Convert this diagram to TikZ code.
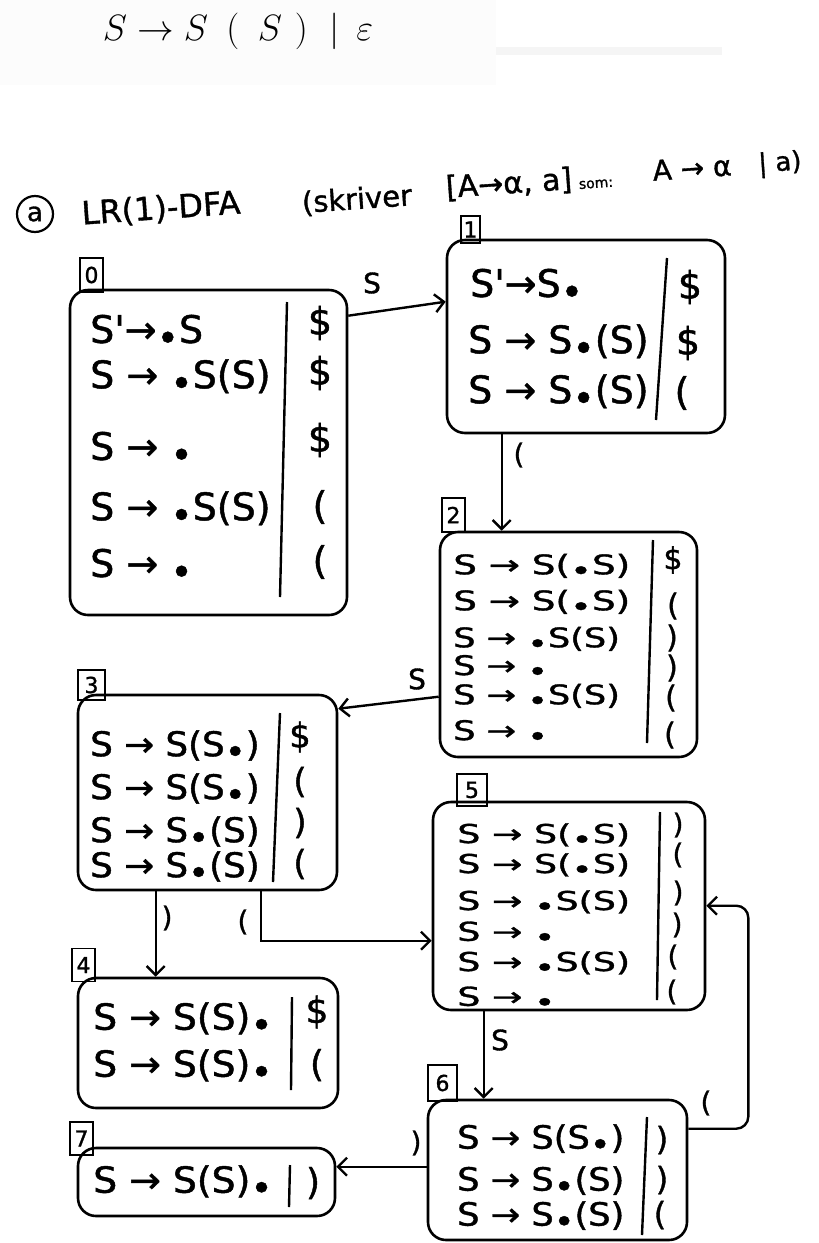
\documentclass[tikz,border=0pt]{standalone}
\usepackage{fontspec}
\newfontfamily\hw[FakeBold=1.2]{DejaVu Sans}
\usetikzlibrary{arrows.meta}
\newcommand\dotp{\raisebox{-0.22em}{•}}
\newcommand\fsz[1]{\hw\fontsize{#1}{#1}\selectfont}
\begin{document}
\begin{tikzpicture}[x=1pt,y=-1pt,
  sbox/.style 2 args={draw, line width=2.6pt, rounded corners=18pt, inner sep=0pt, minimum width=#1pt, minimum height=#2pt},
  tagbox/.style 2 args={draw, line width=1.8pt, inner sep=0pt, font=\fsz{22}, minimum width=#1pt, minimum height=#2pt},
  arr/.style={line width=2.4pt, -{Straight Barb[length=9pt,width=18pt]}},
  lbl/.style={font=\fsz{28}, inner sep=0pt},
  divl/.style={line width=2.4pt},
  row/.style={anchor=west, inner sep=0pt},
  la/.style={inner sep=0pt}]
\useasboundingbox (0,0) rectangle (819,1243);
% header
\fill[black!1] (0,0) rectangle (496,85);
\fill[black!4] (496,47) rectangle (722,55);
\node[inner sep=0pt, scale=2.12] (hdr) at (238,31) {\fontsize{17.28}{20}\selectfont$S\rightarrow S\hspace{0.5em}\mathbf{(}\hspace{0.5em}S\hspace{0.35em}\mathbf{)}\hspace{0.6em}\big|\hspace{0.45em}\varepsilon$};
% title
\node[circle, draw, line width=2.2pt, inner sep=0pt, minimum size=36pt, font=\fsz{26}] (ca) at (35,214) {a};
\node[font=\fsz{32}, inner sep=0pt, rotate=4] (ttl1) at (161,209) {LR(1)-DFA};
\node[font=\fsz{29}, inner sep=0pt, rotate=4] (ttl2) at (357,200) {(skriver};
\node[font=\fsz{30}, inner sep=0pt, rotate=4] (ttl3) at (509,184) {[A→α, a]};
\node[font=\fsz{14}, inner sep=0pt, rotate=4] (ttl4) at (596,184) {som:};
\node[font=\fsz{28}, inner sep=0pt, rotate=4] (ttl5) at (692,168) {A → α};
\node[font=\fsz{26}, inner sep=0pt, rotate=4] (ttl6) at (780,164) {| a)};
% state boxes
\node[sbox={277}{325}, fill=white] (s0) at (208.5,452.5) {};
\node[sbox={278}{193}, fill=white] (s1) at (586,336.5) {};
\node[sbox={257}{225}, fill=white] (s2) at (568.5,644.5) {};
\node[sbox={259}{195}, fill=white] (s3) at (207.5,792.5) {};
\node[sbox={260}{130}, fill=white] (s4) at (208,1043) {};
\node[sbox={272}{208}, fill=white] (s5) at (569,906) {};
\node[sbox={259}{140}, fill=white] (s6) at (557.5,1170) {};
\node[sbox={257}{68}, fill=white] (s7) at (206.5,1182) {};
% tags
\node[tagbox={23}{34}] (g0) at (91.5,275) {0};
\node[tagbox={19}{27}] (g1) at (470.5,229.5) {1};
\node[tagbox={23}{34}] (g2) at (453.5,515) {2};
\node[tagbox={27}{30}] (g3) at (91.5,685) {3};
\node[tagbox={23}{33}] (g4) at (83.5,965) {4};
\node[tagbox={30}{32}] (g5) at (472,790) {5};
\node[tagbox={29}{36}] (g6) at (442.5,1083) {6};
\node[tagbox={23}{33}] (g7) at (81.5,1138.5) {7};
% dividers
\draw[divl] (287,302) -- (280,597);
\draw[divl] (667,258) -- (656,420);
\draw[divl] (653,540) -- (647,743);
\draw[divl] (280,713) -- (273,882);
\draw[divl] (292,997) -- (291,1090);
\draw[divl] (660,812) -- (657,1000);
\draw[divl] (647,1117) -- (642,1235);
\draw[divl] (290,1165) -- (289,1207);
% state 0
\begin{scope}[every node/.append style={font=\fsz{38}}]
\node[row] (s0r1) at (90,333) {S'→\dotp S};
\node[row] (s0r2) at (90,378) {S → \dotp S(S)};
\node[row] (s0r3) at (90,450) {S → \dotp};
\node[row] (s0r4) at (90,510) {S → \dotp S(S)};
\node[row] (s0r5) at (90,567) {S → \dotp};
\node[la] (s0a1) at (320,323) {\$};
\node[la] (s0a2) at (320,373) {\$};
\node[la] (s0a3) at (320,440) {\$};
\node[la] (s0a4) at (320,507) {(};
\node[la] (s0a5) at (320,562) {(};
% state 1
\node[row] (s1r1) at (470,287) {S'→S\dotp};
\node[row] (s1r2) at (468,343) {S → S\dotp(S)};
\node[row] (s1r3) at (468,393) {S → S\dotp(S)};
\node[la] (s1a1) at (690,287) {\$};
\node[la] (s1a2) at (688,343) {\$};
\node[la] (s1a3) at (682,393) {(};
\end{scope}
% state 2
\begin{scope}[every node/.append style={font=\fsz{27}}]
\node[row, xscale=1.38] (s2r1) at (453,567) {S → S(\dotp S)};
\node[row, xscale=1.38] (s2r2) at (453,603) {S → S(\dotp S)};
\node[row, xscale=1.3] (s2r3) at (453,640) {S → \dotp S(S)};
\node[row, xscale=1.3] (s2r4) at (453,668) {S → \dotp};
\node[row, xscale=1.3] (s2r5) at (453,697) {S → \dotp S(S)};
\node[row, xscale=1.3] (s2r6) at (453,733) {S → \dotp};
\end{scope}
\begin{scope}[every node/.append style={font=\fsz{30}}]
\node[la] (s2a1) at (673,560) {\$};
\node[la] (s2a2) at (673,606) {(};
\node[la] (s2a3) at (672,638) {)};
\node[la] (s2a4) at (672,668) {)};
\node[la] (s2a5) at (671,698) {(};
\node[la] (s2a6) at (670,735) {(};
\end{scope}
% state 3
\begin{scope}[every node/.append style={font=\fsz{34}}]
\node[row, xscale=1.05] (s3r1) at (90,747) {S → S(S\dotp)};
\node[row, xscale=1.05] (s3r2) at (90,790) {S → S(S\dotp)};
\node[row, xscale=1.05] (s3r3) at (90,833) {S → S\dotp(S)};
\node[row, xscale=1.05] (s3r4) at (90,868) {S → S\dotp(S)};
\node[la] (s3a1) at (300,737) {\$};
\node[la] (s3a2) at (300,782) {(};
\node[la] (s3a3) at (300,823) {)};
\node[la] (s3a4) at (300,864) {(};
\end{scope}
% state 4 and 7
\begin{scope}[every node/.append style={font=\fsz{36}}]
\node[row, xscale=1.05] (s4r1) at (93,1020) {S → S(S)\dotp};
\node[row, xscale=1.05] (s4r2) at (93,1067) {S → S(S)\dotp};
\node[la] (s4a1) at (317,1012) {\$};
\node[la] (s4a2) at (317,1065) {(};
\node[row, xscale=1.05] (s7r1) at (93,1183) {S → S(S)\dotp};
\node[la] (s7a1) at (313,1183) {)};
\end{scope}
% state 5
\begin{scope}[every node/.append style={font=\fsz{26}}]
\node[row, xscale=1.4] (s5r1) at (457,836) {S → S(\dotp S)};
\node[row, xscale=1.4] (s5r2) at (457,866) {S → S(\dotp S)};
\node[row, xscale=1.4] (s5r3) at (457,903) {S → \dotp S(S)};
\node[row, xscale=1.4] (s5r4) at (457,934) {S → \dotp};
\node[row, xscale=1.4] (s5r5) at (457,964) {S → \dotp S(S)};
\node[row, xscale=1.4] (s5r6) at (457,999) {S → \dotp};
\end{scope}
\begin{scope}[every node/.append style={font=\fsz{28}}]
\node[la] (s5a1) at (678,825) {)};
\node[la] (s5a2) at (678,855) {(};
\node[la] (s5a3) at (678,893) {)};
\node[la] (s5a4) at (677,925) {)};
\node[la] (s5a5) at (673,957) {(};
\node[la] (s5a6) at (672,992) {(};
\end{scope}
% state 6
\begin{scope}[every node/.append style={font=\fsz{32}}]
\node[row, xscale=1.1] (s6r1) at (457,1140) {S → S(S\dotp)};
\node[row, xscale=1.1] (s6r2) at (457,1182) {S → S\dotp(S)};
\node[row, xscale=1.1] (s6r3) at (457,1217) {S → S\dotp(S)};
\node[la] (s6a1) at (662,1140) {)};
\node[la] (s6a2) at (662,1180) {)};
\node[la] (s6a3) at (660,1215) {(};
\end{scope}
% transitions
\draw[arr] ([yshift=-27pt]s0.north east) -- ([yshift=-63pt]s1.north west);
\node[lbl] (l01) at (372,283) {S};
\draw[arr] ([xshift=56pt]s1.south west) -- ([xshift=63pt]s2.north west);
\node[lbl] (l12) at (519,455) {(};
\draw[arr] ([yshift=-166pt]s2.north west) -- ([yshift=-15pt]s3.north east);
\node[lbl] (l23) at (417,679) {S};
\draw[arr] ([xshift=79pt]s3.south west) -- ([xshift=79pt]s4.north west);
\node[lbl] (l34) at (167,918) {)};
\draw[arr] ([xshift=184pt]s3.south west) |- ([yshift=-140pt]s5.north west);
\node[lbl] (l35) at (243,922) {(};
\draw[arr] ([xshift=52pt]s5.south west) -- ([xshift=57pt]s6.north west);
\node[lbl] (l56) at (500,1040) {S};
\draw[arr, rounded corners=12pt] ([yshift=-30pt]s6.north east) -- ++(60,0) |- ([yshift=-105pt]s5.north east);
\node[lbl] (l65) at (706,1103) {(};
\draw[arr] ([yshift=-68pt]s6.north west) -- ([yshift=-20pt]s7.north east);
\node[lbl] (l67) at (416,1143) {)};
\end{tikzpicture}
\end{document}
